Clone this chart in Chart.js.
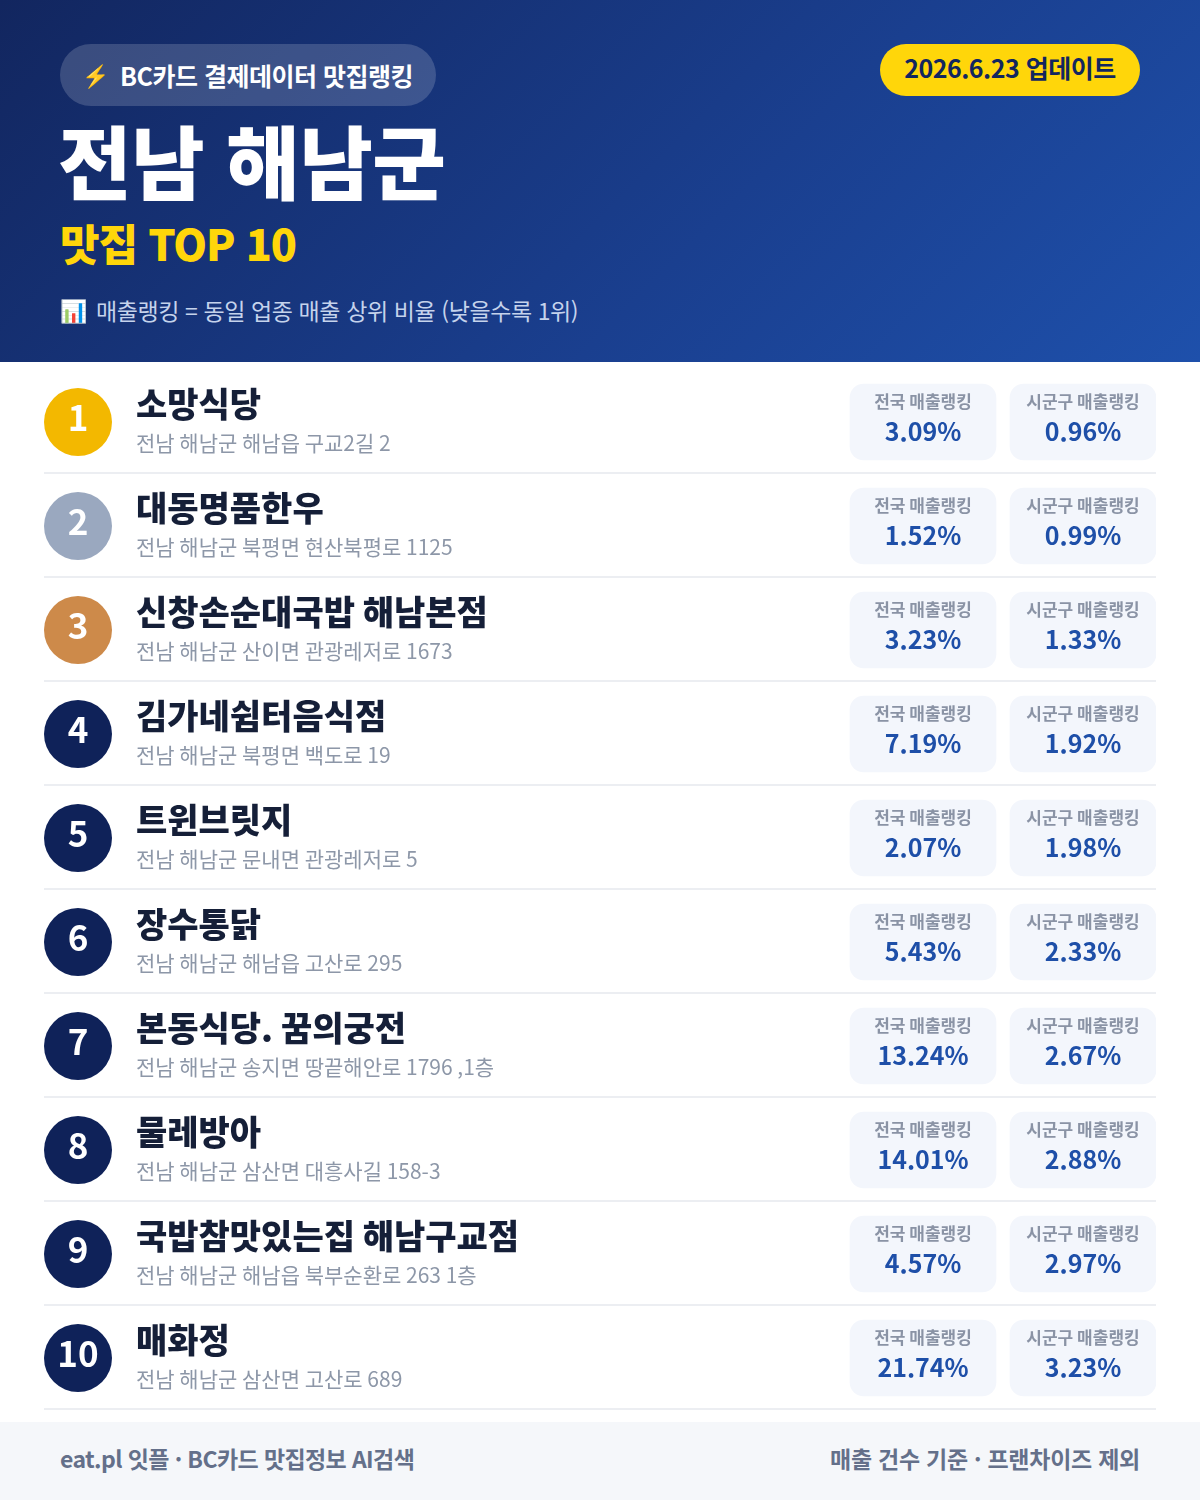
<!DOCTYPE html>
<html lang="ko">
<head>
<meta charset="utf-8">
<script src="https://cdn.jsdelivr.net/npm/chart.js@4/dist/chart.umd.min.js"></script>
<style>
  html, body { margin: 0; padding: 0; background: #fff; }
  body { width: 1200px; height: 1500px; position: relative; overflow: hidden; font-family: "Noto Sans CJK KR", sans-serif; }
  canvas { position: absolute; left: 0; top: 0; }
  .header { position: absolute; left: 0; top: 0; width: 1200px; height: 362px; background: linear-gradient(135deg, #12265f 0%, #1a3f8f 60%, #1e50ab 100%); }
  .header div, .footer div { position: absolute; white-space: nowrap; }
  .badge { left: 60px; top: 44px; width: 376px; height: 62px; border-radius: 31px; background: rgba(255,255,255,0.17); }
  .badge-text { left: 120px; top: 58px; font-size: 25px; line-height: 34px; font-weight: 700; color: #fff; letter-spacing: -0.5px; }
  .bolt { left: 82px; top: 57px; font-size: 22px; line-height: 34px; }
  .date { left: 880px; top: 44px; width: 260px; height: 52px; border-radius: 26px; background: #ffd60a; color: #12265f; font-size: 25px; font-weight: 700; line-height: 46px; text-align: center; letter-spacing: -0.5px; }
  .title { left: 58px; top: 106px; font-size: 80px; line-height: 104px; font-weight: 800; color: #fff; letter-spacing: -0.5px; }
  .top10 { left: 60px; top: 212px; font-size: 43px; line-height: 60px; font-weight: 800; color: #ffd60a; letter-spacing: -1px; }
  .note-icon { left: 60px; top: 292px; font-size: 22px; line-height: 34px; }
  .note { left: 96px; top: 293px; font-size: 23px; line-height: 34px; color: #c5d3ec; letter-spacing: -0.4px; }
  .footer { position: absolute; left: 0; top: 1422px; width: 1200px; height: 78px; background: #f5f7fa; }
  .footer div { top: 19px; font-size: 23px; line-height: 34px; font-weight: 600; color: #64708a; }
</style>
</head>
<body>
<canvas id="rankChart" width="1200" height="1500"></canvas>
<div class="header">
  <div class="badge"></div>
  <div class="bolt">⚡</div>
  <div class="badge-text">BC카드 결제데이터 맛집랭킹</div>
  <div class="date">2026.6.23 업데이트</div>
  <div class="title">전남 해남군</div>
  <div class="top10">맛집 TOP 10</div>
  <div class="note-icon">📊</div>
  <div class="note">매출랭킹 = 동일 업종 매출 상위 비율 (낮을수록 1위)</div>
</div>
<div class="footer">
  <div style="left:60px; letter-spacing:-0.6px">eat.pl 잇플 · BC카드 맛집정보 AI검색</div>
  <div style="right:60px; letter-spacing:-0.25px">매출 건수 기준 · 프랜차이즈 제외</div>
</div>
<script>
const ranks = ["1", "2", "3", "4", "5", "6", "7", "8", "9", "10"];
const names = ["소망식당", "대동명품한우", "신창손순대국밥 해남본점", "김가네쉼터음식점", "트윈브릿지", "장수통닭", "본동식당. 꿈의궁전", "물레방아", "국밥참맛있는집 해남구교점", "매화정"];
const addresses = [
  "전남 해남군 해남읍 구교2길 2",
  "전남 해남군 북평면 현산북평로 1125",
  "전남 해남군 산이면 관광레저로 1673",
  "전남 해남군 북평면 백도로 19",
  "전남 해남군 문내면 관광레저로 5",
  "전남 해남군 해남읍 고산로 295",
  "전남 해남군 송지면 땅끝해안로 1796 ,1층",
  "전남 해남군 삼산면 대흥사길 158-3",
  "전남 해남군 해남읍 북부순환로 263 1층",
  "전남 해남군 삼산면 고산로 689"
];
const nationalRank = [3.09, 1.52, 3.23, 7.19, 2.07, 5.43, 13.24, 14.01, 4.57, 21.74];
const localRank = [0.96, 0.99, 1.33, 1.92, 1.98, 2.33, 2.67, 2.88, 2.97, 3.23];
const nationalLabel = "전국 매출랭킹";
const localLabel = "시군구 매출랭킹";

const FONT = '"Noto Sans CJK KR", sans-serif';
const medalColors = ["#f3b800", "#9aa8bf", "#cd8a4a"];
const navy = "#0f2259";

// circles, cards and row text all hang off the y category scale
const rowText = {
  id: "rowText",
  afterDatasetsDraw(chart) {
    const { ctx, scales: { x, y } } = chart;
    ctx.save();
    ctx.textBaseline = "middle";
    names.forEach((name, i) => {
      const cy = y.getPixelForValue(i);

      ctx.textAlign = "center";
      ctx.fillStyle = "#fff";
      ctx.font = `700 35px ${FONT}`;
      ctx.fillText(ranks[i], x.getPixelForValue(78), cy - 4);

      ctx.textAlign = "left";
      ctx.fillStyle = "#151f38";
      ctx.font = `800 34px ${FONT}`;
      ctx.fillText(name, x.getPixelForValue(136), cy - 18);
      ctx.fillStyle = "#8d97a8";
      ctx.font = `400 21px ${FONT}`;
      ctx.fillText(addresses[i], x.getPixelForValue(136), cy + 21);

      ctx.textAlign = "center";
      [[923, nationalLabel, nationalRank[i]], [1083, localLabel, localRank[i]]].forEach(([cx, label, val]) => {
        ctx.fillStyle = "#8a93a5";
        ctx.font = `600 17px ${FONT}`;
        ctx.fillText(label, x.getPixelForValue(cx), cy - 20);
        ctx.fillStyle = "#1e4fa8";
        ctx.font = `700 25px ${FONT}`;
        ctx.fillText(val.toFixed(2) + "%", x.getPixelForValue(cx), cy + 9);
      });
    });

    // row separators sit one pixel above the category boundary
    ctx.fillStyle = "#eceef2";
    names.forEach((name, i) => {
      ctx.fillRect(x.left, y.getPixelForValue(i) + 50, x.right - x.left, 2);
    });
    ctx.restore();
  }
};

new Chart(document.getElementById("rankChart"), {
  data: {
    labels: names,
    datasets: [
      {
        type: "bar",
        data: names.map(() => [850, 996]),
        backgroundColor: "#f3f6fc",
        borderRadius: 14,
        borderSkipped: false,
        barThickness: 76,
        grouped: false
      },
      {
        type: "bar",
        data: names.map(() => [1010, 1156]),
        backgroundColor: "#f3f6fc",
        borderRadius: 14,
        borderSkipped: false,
        barThickness: 76,
        grouped: false
      },
      {
        type: "scatter",
        data: names.map((name) => ({ x: 78, y: name })),
        pointRadius: 34,
        pointHoverRadius: 34,
        borderWidth: 0,
        backgroundColor: names.map((n, i) => medalColors[i] || navy)
      }
    ]
  },
  options: {
    indexAxis: "y",
    responsive: false,
    animation: false,
    devicePixelRatio: 1,
    layout: { padding: { left: 44, right: 44, top: 370, bottom: 90 } },
    scales: {
      x: { type: "linear", min: 44, max: 1156, display: false },
      y: { type: "category", offset: true, display: false }
    },
    plugins: { legend: { display: false }, tooltip: { enabled: false } }
  },
  plugins: [rowText]
});
</script>
</body>
</html>
